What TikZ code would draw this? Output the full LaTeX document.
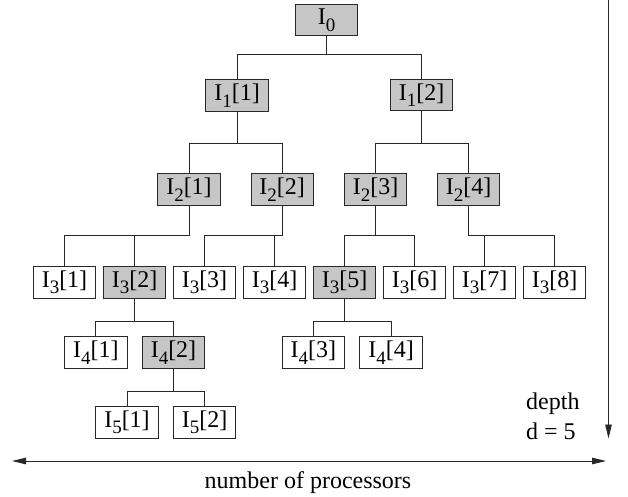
\documentclass[tikz,border=0pt]{standalone}
\usepackage{fontspec}
\setmainfont{Liberation Serif}
\usetikzlibrary{arrows.meta}
\newcommand{\Ilab}[2]{I\raisebox{-6.5pt}{\fontsize{19}{19}\selectfont #1}[#2]}
\definecolor{boxgray}{RGB}{198,198,198}
\definecolor{linec}{RGB}{40,40,40}
\tikzset{
  treebox/.style={draw=linec, line width=0.9pt, minimum width=62.4pt, minimum height=31.5pt,
    inner sep=0pt, font=\fontsize{24}{26}\selectfont},
  hot/.style={treebox, fill=boxgray},
  cold/.style={treebox, fill=white},
  conn/.style={draw=linec, line width=0.9pt},
  axis/.style={draw=linec, line width=0.9pt, -{Triangle[length=14pt,width=6.5pt]}},
  lbl/.style={font=\fontsize{24}{26}\selectfont, inner sep=0pt}
}
\begin{document}
\begin{tikzpicture}[x=1pt,y=-1pt]
\useasboundingbox (0,0) rectangle (628,497);
% bar levels
\coordinate (b01) at (0,54.3);
\coordinate (b12) at (0,143.3);
\coordinate (b23) at (0,235.7);
\coordinate (b34) at (0,321.7);
\coordinate (b45) at (0,391.7);
% nodes
\node[hot] (i0) at (326.7,20) {I\raisebox{-6.5pt}{\fontsize{19}{19}\selectfont 0}};
\node[hot] (i11) at (237,95.7) {\Ilab{1}{1}};
\node[hot] (i12) at (421.5,95.2) {\Ilab{1}{2}};
\node[hot] (i21) at (189,189.5) {\Ilab{2}{1}};
\node[hot] (i22) at (282.2,189.5) {\Ilab{2}{2}};
\node[hot] (i23) at (375.5,189.5) {\Ilab{2}{3}};
\node[hot] (i24) at (468.7,189.5) {\Ilab{2}{4}};
\node[cold] (i31) at (64.5,282.5) {\Ilab{3}{1}};
\node[hot] (i32) at (134.7,282.5) {\Ilab{3}{2}};
\node[cold] (i33) at (204.5,282.5) {\Ilab{3}{3}};
\node[cold] (i34) at (274.5,282.5) {\Ilab{3}{4}};
\node[hot] (i35) at (344.5,282.5) {\Ilab{3}{5}};
\node[cold] (i36) at (414.5,282.5) {\Ilab{3}{6}};
\node[cold] (i37) at (484.5,282.5) {\Ilab{3}{7}};
\node[cold] (i38) at (554.5,282.5) {\Ilab{3}{8}};
\node[cold] (i41) at (95.8,352.5) {\Ilab{4}{1}};
\node[hot] (i42) at (173.5,352.5) {\Ilab{4}{2}};
\node[cold] (i43) at (313.3,352.5) {\Ilab{4}{3}};
\node[cold] (i44) at (391,352.5) {\Ilab{4}{4}};
\node[cold] (i51) at (127,422.2) {\Ilab{5}{1}};
\node[cold] (i52) at (204.7,422.2) {\Ilab{5}{2}};
% connectors
\draw[conn] (i0.south) -- (i0.south |- b01);
\draw[conn] (i11.north) -- (i11.north |- b01) -- (i12.north |- b01) -- (i12.north);
\draw[conn] (i11.south) -- (i11.south |- b12);
\draw[conn] (i21.north) -- (i21.north |- b12) -- (i22.north |- b12) -- (i22.north);
\draw[conn] (i12.south) -- (i12.south |- b12);
\draw[conn] (i23.north) -- (i23.north |- b12) -- (i24.north |- b12) -- (i24.north);
\draw[conn] (i21.south) -- (i21.south |- b23) -- (i31.north |- b23) -- (i31.north);
\draw[conn] (i32.north) -- (i32.north |- b23);
\draw[conn] (i22.south) -- (i22.south |- b23) -- (i33.north |- b23) -- (i33.north);
\draw[conn] (i34.north) -- (i34.north |- b23);
\draw[conn] (i23.south) -- (i23.south |- b23);
\draw[conn] (i35.north) -- (i35.north |- b23) -- (i36.north |- b23) -- (i36.north);
\draw[conn] (i24.south) -- (i24.south |- b23) -- (i38.north |- b23) -- (i38.north);
\draw[conn] (i37.north) -- (i37.north |- b23);
\draw[conn] (i32.south) -- (i32.south |- b34);
\draw[conn] (i41.north) -- (i41.north |- b34) -- (i42.north |- b34) -- (i42.north);
\draw[conn] (i35.south) -- (i35.south |- b34);
\draw[conn] (i43.north) -- (i43.north |- b34) -- (i44.north |- b34) -- (i44.north);
\draw[conn] (i42.south) -- (i42.south |- b45);
\draw[conn] (i51.north) -- (i51.north |- b45) -- (i52.north |- b45) -- (i52.north);
% axes
\coordinate (vtop) at (608.5,0);
\coordinate (vbot) at (608.5,438.5);
\coordinate (hl) at (12,461);
\coordinate (hr) at (606,461);
\draw[axis] (vtop) -- (vbot);
\draw[axis, {Triangle[length=14pt,width=6.5pt]}-{Triangle[length=14pt,width=6.5pt]}] (hl) -- (hr);
\node[lbl, anchor=base west] (depth) at (526,409.3) {depth};
\node[lbl, anchor=base west] (dval) at (526,439.3) {d = 5};
\node[lbl, anchor=base] (nproc) at (308,488) {number of processors};
\end{tikzpicture}
\end{document}
